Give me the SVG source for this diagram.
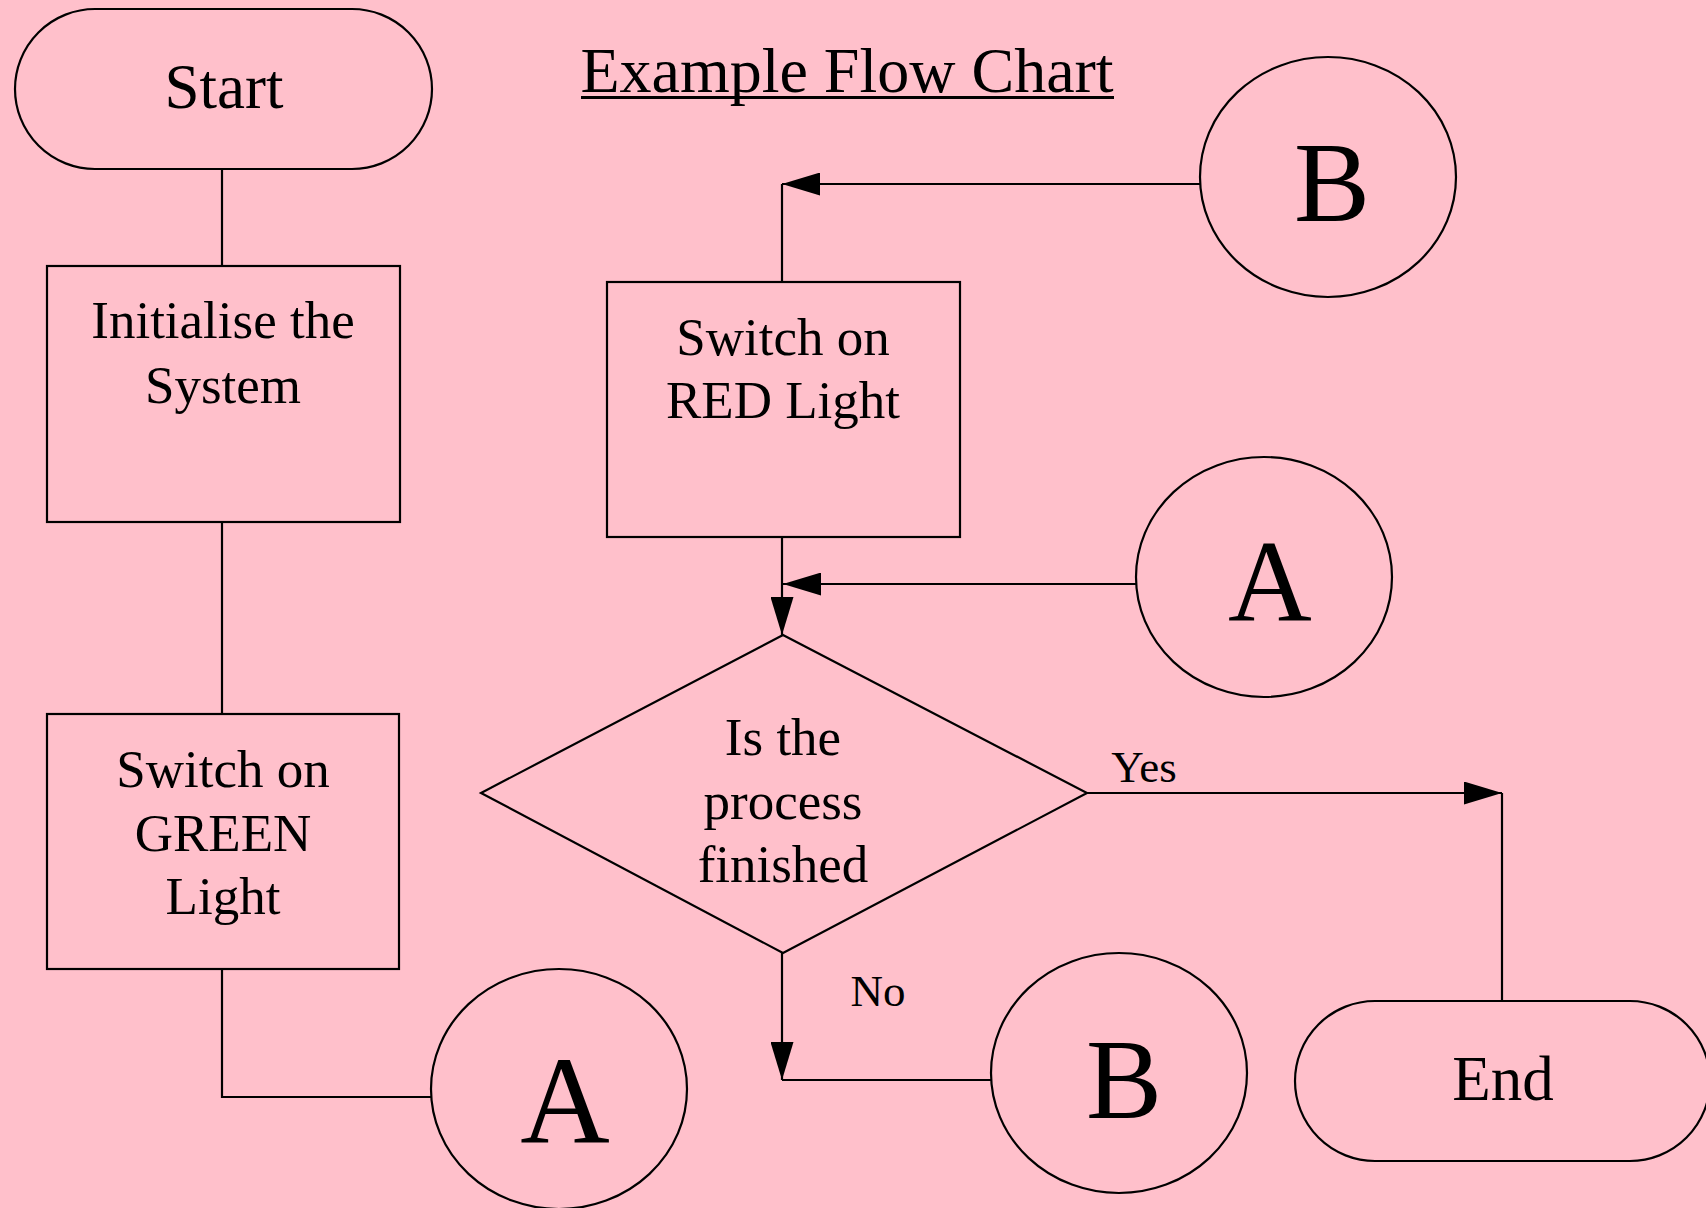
<svg xmlns="http://www.w3.org/2000/svg" width="1706" height="1208" viewBox="0 0 1706 1208">
  <style>
    .shape { fill: none; stroke: #000; stroke-width: 2.2; }
    .wire { fill: none; stroke: #000; stroke-width: 2.2; }
    text { font-family: "Liberation Serif", "Times New Roman", serif; fill: #000; text-anchor: middle; }
    .box { font-size: 53px; }
    .term { font-size: 63px; }
    .tag { font-size: 45px; }
    .title { font-size: 64px; }
  </style>
  <defs>
    <marker id="arrow" viewBox="0 0 38 23" refX="38" refY="11.5" markerWidth="38" markerHeight="23" markerUnits="userSpaceOnUse" orient="auto">
      <path d="M0,0 L38,11.5 L0,23 Z" fill="#000"/>
    </marker>
  </defs>

  <rect width="1706" height="1208" fill="#FFC0CB"/>

  <!-- heading -->
  <g id="title">
    <text class="title" x="847" y="92">Example Flow Chart</text>
    <rect x="581" y="96" width="533" height="3" fill="#000"/>
  </g>

  <!-- connectors -->
  <g id="connectors">
    <path class="wire" d="M222,169 V266"/>
    <path class="wire" d="M222,522 V714"/>
    <path class="wire" d="M222,969 V1097 H431"/>
    <path class="wire" d="M1200,184 H782" marker-end="url(#arrow)"/>
    <path class="wire" d="M782,184 V282"/>
    <path class="wire" d="M782,537 V635" marker-end="url(#arrow)"/>
    <path class="wire" d="M1136,584 H783" marker-end="url(#arrow)"/>
    <path class="wire" d="M1087,793 H1502" marker-end="url(#arrow)"/>
    <path class="wire" d="M1502,793 V1001"/>
    <path class="wire" d="M782,953 V1080" marker-end="url(#arrow)"/>
    <path class="wire" d="M782,1080 H991"/>
    <text class="tag" x="1144" y="782">Yes</text>
    <text class="tag" x="878" y="1006">No</text>
  </g>

  <!-- nodes -->
  <g id="start">
    <rect class="shape" x="15" y="9" width="417" height="160" rx="80" ry="80"/>
    <text class="term" x="224" y="108">Start</text>
  </g>

  <g id="init">
    <rect class="shape" x="47" y="266" width="353" height="256"/>
    <text class="box" x="223" y="338">Initialise the</text>
    <text class="box" x="223" y="403">System</text>
  </g>

  <g id="green">
    <rect class="shape" x="47" y="714" width="352" height="255"/>
    <text class="box" x="223" y="787">Switch on</text>
    <text class="box" x="223" y="851">GREEN</text>
    <text class="box" x="223" y="914">Light</text>
  </g>

  <g id="connector-a-out">
    <ellipse class="shape" cx="559" cy="1089" rx="128" ry="120"/>
    <text x="565" y="1143" font-size="124">A</text>
  </g>

  <g id="connector-b-in">
    <ellipse class="shape" cx="1328" cy="177" rx="128" ry="120"/>
    <text x="1332" y="221" font-size="114">B</text>
  </g>

  <g id="red">
    <rect class="shape" x="607" y="282" width="353" height="255"/>
    <text class="box" x="783" y="355">Switch on</text>
    <text class="box" x="783" y="418">RED Light</text>
  </g>

  <g id="connector-a-in">
    <ellipse class="shape" cx="1264" cy="577" rx="128" ry="120"/>
    <text x="1270" y="621" font-size="116">A</text>
  </g>

  <g id="decision">
    <polygon class="shape" points="783,635 1087,793 783,953 481,793"/>
    <text class="box" x="783" y="755">Is the</text>
    <text class="box" x="783" y="819">process</text>
    <text class="box" x="783" y="882">finished</text>
  </g>

  <g id="connector-b-out">
    <ellipse class="shape" cx="1119" cy="1073" rx="128" ry="120"/>
    <text x="1124" y="1118" font-size="114">B</text>
  </g>

  <g id="end">
    <rect class="shape" x="1295" y="1001" width="415" height="160" rx="80" ry="80"/>
    <text class="term" x="1503" y="1100">End</text>
  </g>
</svg>
